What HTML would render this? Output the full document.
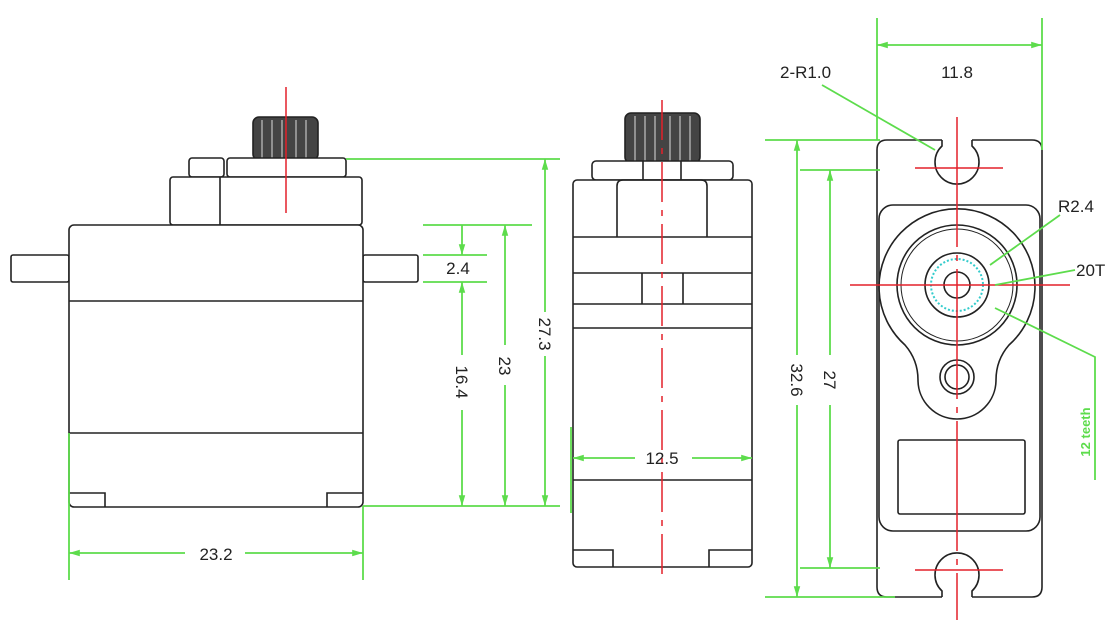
<!DOCTYPE html>
<html><head><style>
html,body{margin:0;padding:0;background:#fff;}
svg{display:block;}
text{font-family:"Liberation Sans",sans-serif;}
</style></head><body>
<svg width="1120" height="636" viewBox="0 0 1120 636" xmlns="http://www.w3.org/2000/svg">
<defs>
<marker id="a" viewBox="0 0 10 10" refX="10" refY="5" markerWidth="8" markerHeight="6" orient="auto-start-reverse"><path d="M0,2 L10,5 L0,8 z" fill="#5ddc4c"/></marker>
</defs>
<g fill="none" stroke="#222" stroke-width="1.6">
<!-- LEFT VIEW -->
<rect x="253" y="117" width="65" height="43" rx="6" fill="#444"/>
<g stroke="#aaa" stroke-width="1.5"><line x1="262" y1="120" x2="262" y2="158"/><line x1="272" y1="120" x2="272" y2="158"/><line x1="282" y1="120" x2="282" y2="158"/><line x1="296" y1="120" x2="296" y2="158"/><line x1="306" y1="120" x2="306" y2="158"/></g>
<rect x="189" y="158" width="35" height="19" rx="3" fill="#fff"/>
<rect x="227" y="158" width="119" height="19" rx="3" fill="#fff"/>
<rect x="170" y="177" width="192" height="48" rx="3" fill="#fff"/>
<line x1="220" y1="177" x2="220" y2="225"/>
<rect x="11" y="255" width="58" height="27" rx="2"/>
<rect x="363" y="255" width="55" height="27" rx="2"/>
<rect x="69" y="225" width="294" height="282" rx="5" fill="#fff"/>
<line x1="69" y1="301" x2="363" y2="301"/>
<line x1="69" y1="433" x2="363" y2="433"/>
<path d="M69,493 H105 V507 M363,493 H327 V507"/>
<!-- MIDDLE VIEW -->
<rect x="625" y="113" width="75" height="50" rx="6" fill="#444"/>
<g stroke="#aaa" stroke-width="1.5"><line x1="635" y1="116" x2="635" y2="161"/><line x1="645" y1="116" x2="645" y2="161"/><line x1="655" y1="116" x2="655" y2="161"/><line x1="670" y1="116" x2="670" y2="161"/><line x1="680" y1="116" x2="680" y2="161"/><line x1="690" y1="116" x2="690" y2="161"/></g>
<rect x="592" y="161" width="141" height="19" rx="4" fill="#fff"/>
<line x1="643" y1="161" x2="643" y2="180"/><line x1="681" y1="161" x2="681" y2="180"/>
<rect x="573" y="180" width="179" height="387" rx="4" fill="#fff"/>
<path d="M617,237 V186 Q617,180 623,180 H701 Q707,180 707,186 V237"/>
<line x1="573" y1="237" x2="752" y2="237"/>
<line x1="573" y1="273" x2="752" y2="273"/>
<line x1="573" y1="304" x2="752" y2="304"/>
<line x1="642" y1="273" x2="642" y2="304"/><line x1="683" y1="273" x2="683" y2="304"/>
<line x1="573" y1="328" x2="752" y2="328"/>
<line x1="573" y1="480" x2="752" y2="480"/>
<path d="M573,550 H613 V567 M752,550 H709 V567"/>
<!-- RIGHT VIEW -->
<path d="M887,140 H942 M972,140 H1032 Q1042,140 1042,150 V587 Q1042,597 1032,597 H972 M942,597 H887 Q877,597 877,587 V150 Q877,140 887,140"/>
<path d="M942,140 V146 A22,22 0 1 0 972,146 V140"/>
<path d="M942,597 V591 A22,22 0 1 1 972,591 V597"/>
<rect x="879" y="205" width="161" height="326" rx="14"/>
<path d="M905,345 A78,78 0 1 1 1009,345 Q996,360 996,380 A39,39 0 0 1 918,380 Q918,360 905,345 Z"/>
<circle cx="957" cy="285" r="60"/>
<circle cx="957" cy="285" r="56" stroke-width="1"/>
<circle cx="957" cy="285" r="32"/>
<circle cx="957" cy="285" r="26" stroke="#3cc" stroke-dasharray="2 2" stroke-width="2"/>
<circle cx="957" cy="285" r="13"/>
<circle cx="957" cy="377" r="17"/>
<circle cx="957" cy="377" r="12"/>
<rect x="898" y="440" width="127" height="74" rx="2"/>
</g>
<!-- red centerlines -->
<g stroke="#e3202a" stroke-width="1.5" fill="none">
<line x1="286" y1="87" x2="286" y2="213"/>
<line x1="662" y1="100" x2="662" y2="580" stroke-dasharray="40 8 6 8"/>
<line x1="957" y1="117" x2="957" y2="620" stroke-dasharray="130 8 6 8"/>
<line x1="915" y1="168" x2="1003" y2="168"/>
<line x1="850" y1="285" x2="1070" y2="285"/>
<line x1="915" y1="570" x2="1003" y2="570"/>
</g>
<!-- green dims -->
<g stroke="#5ddc4c" stroke-width="1.8" fill="none">
<line x1="346" y1="159" x2="560" y2="159"/>
<line x1="363" y1="506" x2="560" y2="506"/>
<line x1="545" y1="159" x2="545" y2="312" marker-start="url(#a)"/>
<line x1="545" y1="356" x2="545" y2="506" marker-end="url(#a)"/>
<line x1="423" y1="225" x2="532" y2="225"/>
<line x1="505" y1="225" x2="505" y2="345" marker-start="url(#a)"/>
<line x1="505" y1="385" x2="505" y2="506" marker-end="url(#a)"/>
<line x1="423" y1="255" x2="487" y2="255"/>
<line x1="423" y1="282" x2="487" y2="282"/>
<line x1="462" y1="225" x2="462" y2="255" marker-end="url(#a)"/>
<line x1="462" y1="282" x2="462" y2="355" marker-start="url(#a)"/>
<line x1="462" y1="410" x2="462" y2="506" marker-end="url(#a)"/>
<line x1="69" y1="433" x2="69" y2="580"/>
<line x1="363" y1="506" x2="363" y2="580"/>
<line x1="69" y1="553" x2="185" y2="553" marker-start="url(#a)"/>
<line x1="245" y1="553" x2="363" y2="553" marker-end="url(#a)"/>
<line x1="571" y1="427" x2="571" y2="513"/>
<line x1="573" y1="458" x2="635" y2="458" marker-start="url(#a)"/>
<line x1="692" y1="458" x2="752" y2="458" marker-end="url(#a)"/>
<line x1="877" y1="18" x2="877" y2="140"/>
<line x1="1042" y1="18" x2="1042" y2="150"/>
<line x1="877" y1="45" x2="1042" y2="45" marker-start="url(#a)" marker-end="url(#a)"/>
<line x1="765" y1="140" x2="880" y2="140"/>
<line x1="765" y1="597" x2="895" y2="597"/>
<line x1="797" y1="140" x2="797" y2="355" marker-start="url(#a)"/>
<line x1="797" y1="405" x2="797" y2="597" marker-end="url(#a)"/>
<line x1="800" y1="170" x2="880" y2="170"/>
<line x1="800" y1="568" x2="880" y2="568"/>
<line x1="830" y1="170" x2="830" y2="355" marker-start="url(#a)"/>
<line x1="830" y1="405" x2="830" y2="568" marker-end="url(#a)"/>
<line x1="822" y1="85" x2="935" y2="150"/>
<line x1="1060" y1="215" x2="990" y2="265"/>
<line x1="1075" y1="270" x2="995" y2="285"/>
<polyline points="995,308 1095,357 1095,480"/>
</g>
<g font-size="17" fill="#222">
<text x="458" y="274" text-anchor="middle">2.4</text>
<text x="216" y="560" text-anchor="middle">23.2</text>
<text x="662" y="464" text-anchor="middle">12.5</text>
<text x="957" y="78" text-anchor="middle">11.8</text>
<text x="780" y="78">2-R1.0</text>
<text x="1058" y="212">R2.4</text>
<text x="1076" y="276">20T</text>
<text transform="translate(539,334) rotate(90)" text-anchor="middle">27.3</text>
<text transform="translate(499,366) rotate(90)" text-anchor="middle">23</text>
<text transform="translate(456,382) rotate(90)" text-anchor="middle">16.4</text>
<text transform="translate(791,380) rotate(90)" text-anchor="middle">32.6</text>
<text transform="translate(824,380) rotate(90)" text-anchor="middle">27</text>
</g>
<text transform="translate(1090,432) rotate(-90)" text-anchor="middle" font-family="Liberation Serif,serif" font-size="13" font-weight="bold" fill="#5ddc4c">12 teeth</text>
</svg>
</body></html>
